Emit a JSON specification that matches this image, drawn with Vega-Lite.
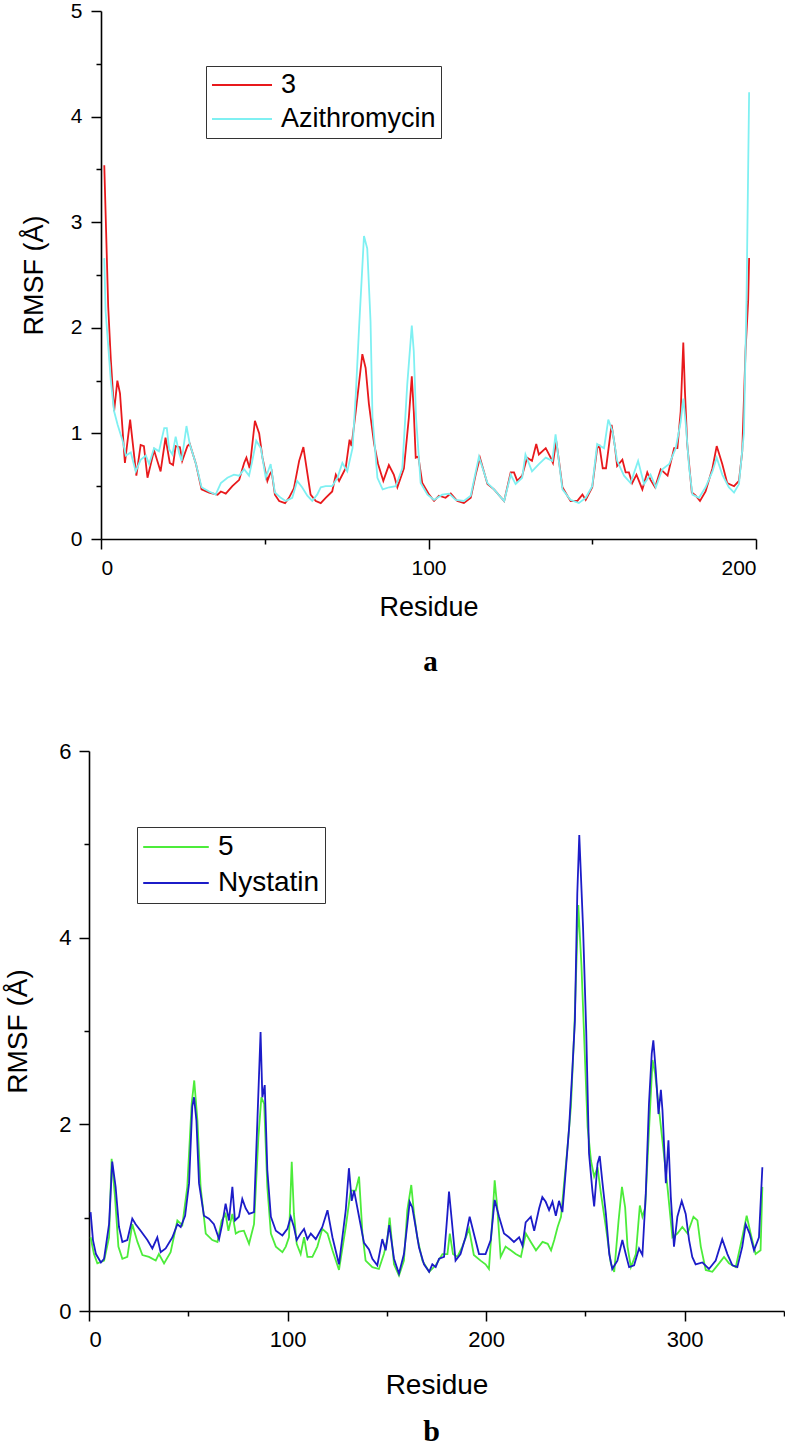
{
  "$schema": "https://vega.github.io/schema/vega-lite/v6.json",
  "background": "white",
  "padding": {"left": 4, "top": 0, "right": 0, "bottom": 0},
  "spacing": 63,
  "resolve": {"scale": {"color": "independent"}, "legend": {"color": "independent"}},
  "config": {
    "view": {"stroke": null},
    "axis": {
      "grid": false,
      "domainColor": "black",
      "domainWidth": 1.6,
      "tickColor": "black",
      "tickWidth": 1.5,
      "labelFont": "Liberation Sans",
      "labelColor": "black",
      "labelFontSize": 21,
      "titleFont": "Liberation Sans",
      "titleFontWeight": "normal",
      "titleColor": "black"
    },
    "legend": {
      "labelFont": "Liberation Sans",
      "labelColor": "black"
    }
  },
  "datasets": {
    "a": [
      {"s":"3","r":1,"v":3.54},{"s":"3","r":2.2,"v":2.2},{"s":"3","r":3,"v":1.7},{"s":"3","r":4,"v":1.21},{"s":"3","r":5,"v":1.5},{"s":"3","r":5.8,"v":1.38},{"s":"3","r":7.3,"v":0.72},{"s":"3","r":8.9,"v":1.13},{"s":"3","r":10.8,"v":0.6},{"s":"3","r":12.1,"v":0.89},{"s":"3","r":13.1,"v":0.88},{"s":"3","r":14.2,"v":0.58},{"s":"3","r":16.2,"v":0.84},{"s":"3","r":18.2,"v":0.64},{"s":"3","r":19.7,"v":0.96},{"s":"3","r":21,"v":0.72},{"s":"3","r":22,"v":0.7},{"s":"3","r":22.8,"v":0.88},{"s":"3","r":24.1,"v":0.87},{"s":"3","r":24.8,"v":0.74},{"s":"3","r":26.4,"v":0.88},{"s":"3","r":27.1,"v":0.9},{"s":"3","r":29,"v":0.71},{"s":"3","r":30.7,"v":0.47},{"s":"3","r":33,"v":0.44},{"s":"3","r":35.6,"v":0.42},{"s":"3","r":36.6,"v":0.45},{"s":"3","r":38.1,"v":0.43},{"s":"3","r":40.1,"v":0.5},{"s":"3","r":42.2,"v":0.56},{"s":"3","r":43.7,"v":0.72},{"s":"3","r":44.4,"v":0.77},{"s":"3","r":45.4,"v":0.67},{"s":"3","r":47,"v":1.12},{"s":"3","r":48.3,"v":1.0},{"s":"3","r":49.3,"v":0.77},{"s":"3","r":50.8,"v":0.55},{"s":"3","r":51.5,"v":0.61},{"s":"3","r":52.1,"v":0.64},{"s":"3","r":53.1,"v":0.42},{"s":"3","r":54.4,"v":0.36},{"s":"3","r":56.2,"v":0.34},{"s":"3","r":57.4,"v":0.39},{"s":"3","r":58.9,"v":0.48},{"s":"3","r":60.5,"v":0.74},{"s":"3","r":61.8,"v":0.87},{"s":"3","r":64,"v":0.42},{"s":"3","r":65.6,"v":0.36},{"s":"3","r":67.1,"v":0.34},{"s":"3","r":68.6,"v":0.39},{"s":"3","r":70.6,"v":0.45},{"s":"3","r":71.7,"v":0.61},{"s":"3","r":72.7,"v":0.55},{"s":"3","r":74.7,"v":0.67},{"s":"3","r":75.9,"v":0.94},{"s":"3","r":76.5,"v":0.88},{"s":"3","r":77.8,"v":1.21},{"s":"3","r":79.8,"v":1.75},{"s":"3","r":80.8,"v":1.62},{"s":"3","r":81.8,"v":1.28},{"s":"3","r":83.4,"v":0.9},{"s":"3","r":84.6,"v":0.71},{"s":"3","r":86.2,"v":0.55},{"s":"3","r":87.9,"v":0.7},{"s":"3","r":89.4,"v":0.61},{"s":"3","r":90.5,"v":0.49},{"s":"3","r":92.5,"v":0.67},{"s":"3","r":94,"v":1.15},{"s":"3","r":94.9,"v":1.54},{"s":"3","r":95.5,"v":1.21},{"s":"3","r":96.1,"v":0.77},{"s":"3","r":96.9,"v":0.78},{"s":"3","r":98.1,"v":0.53},{"s":"3","r":100.2,"v":0.42},{"s":"3","r":101.7,"v":0.36},{"s":"3","r":103.2,"v":0.41},{"s":"3","r":105.2,"v":0.39},{"s":"3","r":106.8,"v":0.43},{"s":"3","r":108.8,"v":0.36},{"s":"3","r":110.8,"v":0.34},{"s":"3","r":112.9,"v":0.39},{"s":"3","r":114.4,"v":0.61},{"s":"3","r":115.7,"v":0.77},{"s":"3","r":118,"v":0.52},{"s":"3","r":120,"v":0.47},{"s":"3","r":123.1,"v":0.36},{"s":"3","r":125.1,"v":0.63},{"s":"3","r":126.1,"v":0.63},{"s":"3","r":127.1,"v":0.55},{"s":"3","r":128.6,"v":0.6},{"s":"3","r":130.1,"v":0.77},{"s":"3","r":131.6,"v":0.74},{"s":"3","r":132.9,"v":0.9},{"s":"3","r":133.7,"v":0.8},{"s":"3","r":135.8,"v":0.86},{"s":"3","r":137.3,"v":0.77},{"s":"3","r":138,"v":0.72},{"s":"3","r":139,"v":0.93},{"s":"3","r":139.8,"v":0.75},{"s":"3","r":140.9,"v":0.49},{"s":"3","r":142.4,"v":0.41},{"s":"3","r":143.4,"v":0.36},{"s":"3","r":145.4,"v":0.36},{"s":"3","r":147,"v":0.42},{"s":"3","r":148,"v":0.37},{"s":"3","r":150,"v":0.49},{"s":"3","r":151.5,"v":0.86},{"s":"3","r":152.2,"v":0.88},{"s":"3","r":153.2,"v":0.67},{"s":"3","r":154.2,"v":0.67},{"s":"3","r":155.9,"v":1.08},{"s":"3","r":156.9,"v":0.88},{"s":"3","r":157.6,"v":0.69},{"s":"3","r":159.2,"v":0.75},{"s":"3","r":160.2,"v":0.63},{"s":"3","r":161.2,"v":0.63},{"s":"3","r":162.2,"v":0.53},{"s":"3","r":163.5,"v":0.61},{"s":"3","r":165.3,"v":0.47},{"s":"3","r":166.8,"v":0.63},{"s":"3","r":167.8,"v":0.56},{"s":"3","r":169.2,"v":0.49},{"s":"3","r":170.9,"v":0.66},{"s":"3","r":173,"v":0.6},{"s":"3","r":175,"v":0.86},{"s":"3","r":176,"v":0.86},{"s":"3","r":177,"v":1.21},{"s":"3","r":177.8,"v":1.86},{"s":"3","r":178.3,"v":1.4},{"s":"3","r":179,"v":0.9},{"s":"3","r":180.4,"v":0.44},{"s":"3","r":181.6,"v":0.41},{"s":"3","r":182.9,"v":0.36},{"s":"3","r":184.6,"v":0.45},{"s":"3","r":186.7,"v":0.67},{"s":"3","r":188,"v":0.88},{"s":"3","r":189.7,"v":0.71},{"s":"3","r":191.2,"v":0.53},{"s":"3","r":193.3,"v":0.5},{"s":"3","r":194.8,"v":0.55},{"s":"3","r":195.8,"v":0.83},{"s":"3","r":196.8,"v":1.78},{"s":"3","r":197.6,"v":2.25},{"s":"3","r":197.9,"v":2.66},
      {"s":"Azithromycin","r":1,"v":2.66},{"s":"Azithromycin","r":1.4,"v":2.16},{"s":"Azithromycin","r":3,"v":1.5},{"s":"Azithromycin","r":4,"v":1.21},{"s":"Azithromycin","r":5.1,"v":1.08},{"s":"Azithromycin","r":6.6,"v":0.93},{"s":"Azithromycin","r":7.6,"v":0.79},{"s":"Azithromycin","r":9.1,"v":0.82},{"s":"Azithromycin","r":10.6,"v":0.64},{"s":"Azithromycin","r":12.1,"v":0.75},{"s":"Azithromycin","r":13.7,"v":0.79},{"s":"Azithromycin","r":14.7,"v":0.71},{"s":"Azithromycin","r":16.2,"v":0.86},{"s":"Azithromycin","r":17.7,"v":0.83},{"s":"Azithromycin","r":19.3,"v":1.05},{"s":"Azithromycin","r":20.1,"v":1.05},{"s":"Azithromycin","r":20.8,"v":0.85},{"s":"Azithromycin","r":21.8,"v":0.8},{"s":"Azithromycin","r":22.8,"v":0.97},{"s":"Azithromycin","r":23.8,"v":0.82},{"s":"Azithromycin","r":24.6,"v":0.74},{"s":"Azithromycin","r":26.1,"v":1.07},{"s":"Azithromycin","r":27.1,"v":0.9},{"s":"Azithromycin","r":29,"v":0.71},{"s":"Azithromycin","r":30.7,"v":0.49},{"s":"Azithromycin","r":33,"v":0.45},{"s":"Azithromycin","r":35,"v":0.42},{"s":"Azithromycin","r":36.6,"v":0.53},{"s":"Azithromycin","r":38.6,"v":0.58},{"s":"Azithromycin","r":40.6,"v":0.61},{"s":"Azithromycin","r":42.2,"v":0.6},{"s":"Azithromycin","r":43.7,"v":0.66},{"s":"Azithromycin","r":45.2,"v":0.6},{"s":"Azithromycin","r":46.2,"v":0.74},{"s":"Azithromycin","r":47.4,"v":0.93},{"s":"Azithromycin","r":48.8,"v":0.86},{"s":"Azithromycin","r":50.3,"v":0.58},{"s":"Azithromycin","r":51.8,"v":0.71},{"s":"Azithromycin","r":53.1,"v":0.44},{"s":"Azithromycin","r":54.9,"v":0.39},{"s":"Azithromycin","r":56.4,"v":0.36},{"s":"Azithromycin","r":58.4,"v":0.39},{"s":"Azithromycin","r":59.9,"v":0.55},{"s":"Azithromycin","r":61.4,"v":0.49},{"s":"Azithromycin","r":63,"v":0.41},{"s":"Azithromycin","r":64.5,"v":0.36},{"s":"Azithromycin","r":66,"v":0.42},{"s":"Azithromycin","r":67.1,"v":0.49},{"s":"Azithromycin","r":68.6,"v":0.5},{"s":"Azithromycin","r":70.6,"v":0.5},{"s":"Azithromycin","r":72.2,"v":0.58},{"s":"Azithromycin","r":73.7,"v":0.72},{"s":"Azithromycin","r":75.2,"v":0.64},{"s":"Azithromycin","r":76.8,"v":0.86},{"s":"Azithromycin","r":77.8,"v":1.37},{"s":"Azithromycin","r":78.8,"v":2.0},{"s":"Azithromycin","r":80.3,"v":2.87},{"s":"Azithromycin","r":81.3,"v":2.75},{"s":"Azithromycin","r":82.3,"v":2.06},{"s":"Azithromycin","r":82.9,"v":1.15},{"s":"Azithromycin","r":84.4,"v":0.58},{"s":"Azithromycin","r":86,"v":0.47},{"s":"Azithromycin","r":88,"v":0.49},{"s":"Azithromycin","r":90,"v":0.5},{"s":"Azithromycin","r":92,"v":0.67},{"s":"Azithromycin","r":93.5,"v":1.46},{"s":"Azithromycin","r":94.9,"v":2.02},{"s":"Azithromycin","r":95.5,"v":1.78},{"s":"Azithromycin","r":96.2,"v":1.15},{"s":"Azithromycin","r":97.6,"v":0.53},{"s":"Azithromycin","r":99.7,"v":0.42},{"s":"Azithromycin","r":101.7,"v":0.37},{"s":"Azithromycin","r":104.2,"v":0.42},{"s":"Azithromycin","r":106.3,"v":0.43},{"s":"Azithromycin","r":108.3,"v":0.37},{"s":"Azithromycin","r":110.8,"v":0.36},{"s":"Azithromycin","r":112.9,"v":0.41},{"s":"Azithromycin","r":115.4,"v":0.78},{"s":"Azithromycin","r":118,"v":0.53},{"s":"Azithromycin","r":120,"v":0.47},{"s":"Azithromycin","r":123.1,"v":0.36},{"s":"Azithromycin","r":125.1,"v":0.61},{"s":"Azithromycin","r":126.6,"v":0.52},{"s":"Azithromycin","r":128.6,"v":0.58},{"s":"Azithromycin","r":129.6,"v":0.8},{"s":"Azithromycin","r":131.6,"v":0.64},{"s":"Azithromycin","r":133.7,"v":0.71},{"s":"Azithromycin","r":135.8,"v":0.77},{"s":"Azithromycin","r":137.8,"v":0.74},{"s":"Azithromycin","r":138.8,"v":0.99},{"s":"Azithromycin","r":139.8,"v":0.74},{"s":"Azithromycin","r":140.9,"v":0.47},{"s":"Azithromycin","r":143.4,"v":0.37},{"s":"Azithromycin","r":145.9,"v":0.34},{"s":"Azithromycin","r":148,"v":0.39},{"s":"Azithromycin","r":150,"v":0.5},{"s":"Azithromycin","r":151.5,"v":0.9},{"s":"Azithromycin","r":153.6,"v":0.86},{"s":"Azithromycin","r":154.9,"v":1.13},{"s":"Azithromycin","r":156.2,"v":1.02},{"s":"Azithromycin","r":157.6,"v":0.74},{"s":"Azithromycin","r":159.7,"v":0.6},{"s":"Azithromycin","r":161.7,"v":0.53},{"s":"Azithromycin","r":164,"v":0.74},{"s":"Azithromycin","r":165.8,"v":0.52},{"s":"Azithromycin","r":167.8,"v":0.61},{"s":"Azithromycin","r":169.4,"v":0.49},{"s":"Azithromycin","r":171.4,"v":0.66},{"s":"Azithromycin","r":173.5,"v":0.71},{"s":"Azithromycin","r":175.5,"v":0.86},{"s":"Azithromycin","r":177,"v":1.11},{"s":"Azithromycin","r":177.8,"v":1.33},{"s":"Azithromycin","r":178.5,"v":1.11},{"s":"Azithromycin","r":179.6,"v":0.67},{"s":"Azithromycin","r":180.6,"v":0.42},{"s":"Azithromycin","r":182.6,"v":0.39},{"s":"Azithromycin","r":184.6,"v":0.49},{"s":"Azithromycin","r":186.7,"v":0.64},{"s":"Azithromycin","r":188,"v":0.77},{"s":"Azithromycin","r":189.7,"v":0.61},{"s":"Azithromycin","r":191.7,"v":0.49},{"s":"Azithromycin","r":193.3,"v":0.44},{"s":"Azithromycin","r":194.8,"v":0.52},{"s":"Azithromycin","r":196.3,"v":1.0},{"s":"Azithromycin","r":197.1,"v":2.25},{"s":"Azithromycin","r":197.9,"v":4.23}
    ],
    "b": [
      {"s":"5","r":0.8,"v":0.79},{"s":"5","r":2.5,"v":0.61},{"s":"5","r":4.2,"v":0.51},{"s":"5","r":7.6,"v":0.54},{"s":"5","r":10.1,"v":0.79},{"s":"5","r":11.4,"v":1.63},{"s":"5","r":13.1,"v":1.22},{"s":"5","r":14.8,"v":0.69},{"s":"5","r":16.8,"v":0.56},{"s":"5","r":19.3,"v":0.58},{"s":"5","r":21.8,"v":0.93},{"s":"5","r":24.4,"v":0.74},{"s":"5","r":26.9,"v":0.6},{"s":"5","r":30.2,"v":0.58},{"s":"5","r":33.6,"v":0.54},{"s":"5","r":35.2,"v":0.61},{"s":"5","r":37.8,"v":0.51},{"s":"5","r":41.1,"v":0.63},{"s":"5","r":44.5,"v":0.97},{"s":"5","r":47,"v":0.92},{"s":"5","r":49.5,"v":1.33},{"s":"5","r":51.7,"v":2.22},{"s":"5","r":53,"v":2.47},{"s":"5","r":54.6,"v":2.04},{"s":"5","r":56.2,"v":1.33},{"s":"5","r":58.8,"v":0.83},{"s":"5","r":62.1,"v":0.76},{"s":"5","r":64.7,"v":0.74},{"s":"5","r":66.8,"v":0.97},{"s":"5","r":68.8,"v":1.04},{"s":"5","r":70.2,"v":0.86},{"s":"5","r":72.2,"v":1.04},{"s":"5","r":73.9,"v":0.83},{"s":"5","r":75.5,"v":0.85},{"s":"5","r":78,"v":0.86},{"s":"5","r":80.6,"v":0.72},{"s":"5","r":83.1,"v":0.93},{"s":"5","r":85.3,"v":1.86},{"s":"5","r":86.8,"v":2.29},{"s":"5","r":88.2,"v":2.22},{"s":"5","r":89.8,"v":1.33},{"s":"5","r":91.6,"v":0.83},{"s":"5","r":94.1,"v":0.69},{"s":"5","r":97.4,"v":0.63},{"s":"5","r":99.1,"v":0.69},{"s":"5","r":100.7,"v":0.79},{"s":"5","r":102.1,"v":1.6},{"s":"5","r":103.2,"v":1.04},{"s":"5","r":104.6,"v":0.72},{"s":"5","r":106.6,"v":0.61},{"s":"5","r":108.3,"v":0.79},{"s":"5","r":110,"v":0.58},{"s":"5","r":112.5,"v":0.58},{"s":"5","r":115,"v":0.69},{"s":"5","r":117.5,"v":0.88},{"s":"5","r":120.1,"v":0.83},{"s":"5","r":122.6,"v":0.65},{"s":"5","r":125.9,"v":0.44},{"s":"5","r":129.3,"v":0.9},{"s":"5","r":131.8,"v":1.29},{"s":"5","r":134.3,"v":1.29},{"s":"5","r":136,"v":1.44},{"s":"5","r":137.7,"v":0.83},{"s":"5","r":139.3,"v":0.54},{"s":"5","r":142.7,"v":0.47},{"s":"5","r":146,"v":0.45},{"s":"5","r":148.5,"v":0.61},{"s":"5","r":150.2,"v":0.76},{"s":"5","r":151.4,"v":1.0},{"s":"5","r":153.6,"v":0.5},{"s":"5","r":156.1,"v":0.38},{"s":"5","r":158.6,"v":0.54},{"s":"5","r":160.3,"v":1.08},{"s":"5","r":162.3,"v":1.35},{"s":"5","r":163.7,"v":1.04},{"s":"5","r":165.3,"v":0.79},{"s":"5","r":167.9,"v":0.54},{"s":"5","r":171.3,"v":0.42},{"s":"5","r":174.6,"v":0.49},{"s":"5","r":178,"v":0.61},{"s":"5","r":180.5,"v":0.61},{"s":"5","r":181.7,"v":0.83},{"s":"5","r":183.3,"v":0.61},{"s":"5","r":185.5,"v":0.58},{"s":"5","r":188,"v":0.69},{"s":"5","r":191.4,"v":0.88},{"s":"5","r":193.8,"v":0.6},{"s":"5","r":197.2,"v":0.54},{"s":"5","r":199.7,"v":0.5},{"s":"5","r":201.4,"v":0.45},{"s":"5","r":203.1,"v":0.97},{"s":"5","r":204.3,"v":1.4},{"s":"5","r":205.6,"v":1.11},{"s":"5","r":207.3,"v":0.58},{"s":"5","r":209.8,"v":0.69},{"s":"5","r":212.4,"v":0.65},{"s":"5","r":214.9,"v":0.61},{"s":"5","r":217.5,"v":0.58},{"s":"5","r":220,"v":0.83},{"s":"5","r":222.5,"v":0.74},{"s":"5","r":225.1,"v":0.65},{"s":"5","r":228.4,"v":0.74},{"s":"5","r":231,"v":0.72},{"s":"5","r":232.7,"v":0.65},{"s":"5","r":234.3,"v":0.76},{"s":"5","r":236,"v":0.9},{"s":"5","r":237.7,"v":1.01},{"s":"5","r":239.4,"v":1.4},{"s":"5","r":241,"v":1.76},{"s":"5","r":242.7,"v":2.19},{"s":"5","r":244.4,"v":3.01},{"s":"5","r":246.4,"v":4.35},{"s":"5","r":248,"v":3.7},{"s":"5","r":249.6,"v":2.8},{"s":"5","r":251.1,"v":1.97},{"s":"5","r":252.8,"v":1.61},{"s":"5","r":254.4,"v":1.44},{"s":"5","r":256.1,"v":1.54},{"s":"5","r":257.8,"v":1.26},{"s":"5","r":260.3,"v":0.9},{"s":"5","r":262.8,"v":0.51},{"s":"5","r":264.5,"v":0.42},{"s":"5","r":266.7,"v":0.97},{"s":"5","r":268.4,"v":1.33},{"s":"5","r":270,"v":1.11},{"s":"5","r":271.2,"v":0.69},{"s":"5","r":272.9,"v":0.47},{"s":"5","r":275.4,"v":0.61},{"s":"5","r":277.4,"v":1.13},{"s":"5","r":278.7,"v":1.01},{"s":"5","r":280.1,"v":1.11},{"s":"5","r":282,"v":1.93},{"s":"5","r":283.8,"v":2.69},{"s":"5","r":285.1,"v":2.54},{"s":"5","r":287.1,"v":2.15},{"s":"5","r":289.1,"v":1.76},{"s":"5","r":291.3,"v":1.33},{"s":"5","r":293.8,"v":0.79},{"s":"5","r":296.3,"v":0.83},{"s":"5","r":298.8,"v":0.9},{"s":"5","r":301.4,"v":0.83},{"s":"5","r":304.4,"v":1.01},{"s":"5","r":306.4,"v":0.97},{"s":"5","r":308.1,"v":0.69},{"s":"5","r":310.6,"v":0.44},{"s":"5","r":313.9,"v":0.42},{"s":"5","r":317.3,"v":0.51},{"s":"5","r":319.8,"v":0.58},{"s":"5","r":322.3,"v":0.51},{"s":"5","r":325.7,"v":0.47},{"s":"5","r":329,"v":0.79},{"s":"5","r":331.2,"v":1.02},{"s":"5","r":333.2,"v":0.83},{"s":"5","r":335.7,"v":0.61},{"s":"5","r":338.2,"v":0.65},{"s":"5","r":339.1,"v":1.33},
      {"s":"Nystatin","r":0.8,"v":1.06},{"s":"Nystatin","r":2,"v":0.76},{"s":"Nystatin","r":3.5,"v":0.61},{"s":"Nystatin","r":6,"v":0.52},{"s":"Nystatin","r":7.6,"v":0.56},{"s":"Nystatin","r":10.1,"v":0.93},{"s":"Nystatin","r":11.7,"v":1.6},{"s":"Nystatin","r":13.4,"v":1.33},{"s":"Nystatin","r":15.1,"v":0.9},{"s":"Nystatin","r":16.8,"v":0.74},{"s":"Nystatin","r":19.3,"v":0.76},{"s":"Nystatin","r":21.8,"v":0.99},{"s":"Nystatin","r":23.5,"v":0.93},{"s":"Nystatin","r":26,"v":0.86},{"s":"Nystatin","r":29.4,"v":0.76},{"s":"Nystatin","r":31.9,"v":0.67},{"s":"Nystatin","r":34.4,"v":0.79},{"s":"Nystatin","r":36.1,"v":0.63},{"s":"Nystatin","r":38.6,"v":0.67},{"s":"Nystatin","r":42,"v":0.79},{"s":"Nystatin","r":44.5,"v":0.93},{"s":"Nystatin","r":46.2,"v":0.9},{"s":"Nystatin","r":48.4,"v":1.02},{"s":"Nystatin","r":50.4,"v":1.37},{"s":"Nystatin","r":52,"v":2.19},{"s":"Nystatin","r":52.9,"v":2.29},{"s":"Nystatin","r":54.1,"v":2.04},{"s":"Nystatin","r":55.4,"v":1.37},{"s":"Nystatin","r":57.9,"v":1.02},{"s":"Nystatin","r":60.4,"v":0.99},{"s":"Nystatin","r":62.9,"v":0.93},{"s":"Nystatin","r":65.5,"v":0.77},{"s":"Nystatin","r":67.1,"v":0.93},{"s":"Nystatin","r":68.8,"v":1.15},{"s":"Nystatin","r":70.5,"v":0.97},{"s":"Nystatin","r":72.2,"v":1.33},{"s":"Nystatin","r":73.5,"v":0.97},{"s":"Nystatin","r":75.5,"v":1.01},{"s":"Nystatin","r":77.2,"v":1.2},{"s":"Nystatin","r":78.9,"v":1.1},{"s":"Nystatin","r":80.6,"v":1.04},{"s":"Nystatin","r":83.1,"v":1.06},{"s":"Nystatin","r":84.8,"v":2.04},{"s":"Nystatin","r":86.4,"v":2.99},{"s":"Nystatin","r":87.3,"v":2.29},{"s":"Nystatin","r":88.5,"v":2.42},{"s":"Nystatin","r":89.8,"v":1.51},{"s":"Nystatin","r":91.6,"v":1.01},{"s":"Nystatin","r":94.1,"v":0.86},{"s":"Nystatin","r":97.4,"v":0.81},{"s":"Nystatin","r":99.9,"v":0.88},{"s":"Nystatin","r":101.6,"v":1.01},{"s":"Nystatin","r":103.2,"v":0.9},{"s":"Nystatin","r":104.6,"v":0.76},{"s":"Nystatin","r":106.6,"v":0.83},{"s":"Nystatin","r":108.3,"v":0.88},{"s":"Nystatin","r":110,"v":0.77},{"s":"Nystatin","r":111.7,"v":0.83},{"s":"Nystatin","r":114.2,"v":0.77},{"s":"Nystatin","r":117.5,"v":0.9},{"s":"Nystatin","r":120.1,"v":1.08},{"s":"Nystatin","r":122.6,"v":0.79},{"s":"Nystatin","r":125.9,"v":0.5},{"s":"Nystatin","r":129.3,"v":1.08},{"s":"Nystatin","r":130.9,"v":1.53},{"s":"Nystatin","r":132.3,"v":1.18},{"s":"Nystatin","r":133.5,"v":1.29},{"s":"Nystatin","r":136,"v":1.01},{"s":"Nystatin","r":138.5,"v":0.73},{"s":"Nystatin","r":141,"v":0.66},{"s":"Nystatin","r":142.7,"v":0.56},{"s":"Nystatin","r":145.2,"v":0.49},{"s":"Nystatin","r":147.7,"v":0.77},{"s":"Nystatin","r":149.4,"v":0.65},{"s":"Nystatin","r":151.2,"v":0.92},{"s":"Nystatin","r":153.6,"v":0.56},{"s":"Nystatin","r":156.1,"v":0.4},{"s":"Nystatin","r":158.6,"v":0.61},{"s":"Nystatin","r":160.3,"v":0.93},{"s":"Nystatin","r":161.5,"v":1.17},{"s":"Nystatin","r":162.8,"v":1.11},{"s":"Nystatin","r":164.5,"v":0.9},{"s":"Nystatin","r":166.2,"v":0.68},{"s":"Nystatin","r":168.7,"v":0.5},{"s":"Nystatin","r":171.3,"v":0.42},{"s":"Nystatin","r":172.9,"v":0.5},{"s":"Nystatin","r":174.6,"v":0.47},{"s":"Nystatin","r":176.3,"v":0.56},{"s":"Nystatin","r":178.8,"v":0.58},{"s":"Nystatin","r":180.5,"v":1.04},{"s":"Nystatin","r":181.3,"v":1.28},{"s":"Nystatin","r":182.7,"v":0.97},{"s":"Nystatin","r":184.6,"v":0.54},{"s":"Nystatin","r":187.1,"v":0.61},{"s":"Nystatin","r":189.6,"v":0.79},{"s":"Nystatin","r":191.7,"v":1.01},{"s":"Nystatin","r":193.8,"v":0.83},{"s":"Nystatin","r":196.4,"v":0.61},{"s":"Nystatin","r":199.7,"v":0.61},{"s":"Nystatin","r":202.3,"v":0.76},{"s":"Nystatin","r":204.3,"v":1.19},{"s":"Nystatin","r":206.5,"v":1.01},{"s":"Nystatin","r":209,"v":0.83},{"s":"Nystatin","r":211.5,"v":0.79},{"s":"Nystatin","r":214,"v":0.74},{"s":"Nystatin","r":216.6,"v":0.79},{"s":"Nystatin","r":218.3,"v":0.7},{"s":"Nystatin","r":219.9,"v":0.95},{"s":"Nystatin","r":222.5,"v":1.01},{"s":"Nystatin","r":224.2,"v":0.86},{"s":"Nystatin","r":226.7,"v":1.1},{"s":"Nystatin","r":228.3,"v":1.22},{"s":"Nystatin","r":230,"v":1.17},{"s":"Nystatin","r":231.7,"v":1.08},{"s":"Nystatin","r":233.4,"v":1.17},{"s":"Nystatin","r":235.1,"v":1.02},{"s":"Nystatin","r":236.7,"v":1.18},{"s":"Nystatin","r":238.4,"v":1.06},{"s":"Nystatin","r":240.1,"v":1.51},{"s":"Nystatin","r":241.8,"v":1.97},{"s":"Nystatin","r":243.4,"v":2.58},{"s":"Nystatin","r":244.7,"v":3.11},{"s":"Nystatin","r":245.9,"v":4.47},{"s":"Nystatin","r":246.9,"v":5.1},{"s":"Nystatin","r":248.8,"v":4.11},{"s":"Nystatin","r":250.4,"v":3.0},{"s":"Nystatin","r":251.8,"v":1.69},{"s":"Nystatin","r":253.5,"v":1.29},{"s":"Nystatin","r":254.4,"v":1.12},{"s":"Nystatin","r":256.1,"v":1.58},{"s":"Nystatin","r":257.2,"v":1.66},{"s":"Nystatin","r":258.6,"v":1.37},{"s":"Nystatin","r":260.3,"v":1.04},{"s":"Nystatin","r":262,"v":0.61},{"s":"Nystatin","r":263.5,"v":0.45},{"s":"Nystatin","r":266.1,"v":0.54},{"s":"Nystatin","r":268.6,"v":0.76},{"s":"Nystatin","r":270.3,"v":0.61},{"s":"Nystatin","r":272,"v":0.47},{"s":"Nystatin","r":274.5,"v":0.49},{"s":"Nystatin","r":277,"v":0.67},{"s":"Nystatin","r":278.7,"v":0.6},{"s":"Nystatin","r":280.4,"v":1.26},{"s":"Nystatin","r":282,"v":2.22},{"s":"Nystatin","r":283.4,"v":2.76},{"s":"Nystatin","r":284.2,"v":2.9},{"s":"Nystatin","r":285.4,"v":2.58},{"s":"Nystatin","r":286.8,"v":2.11},{"s":"Nystatin","r":288,"v":2.37},{"s":"Nystatin","r":288.8,"v":2.15},{"s":"Nystatin","r":290.5,"v":1.37},{"s":"Nystatin","r":291.8,"v":1.83},{"s":"Nystatin","r":293,"v":1.22},{"s":"Nystatin","r":294.6,"v":0.69},{"s":"Nystatin","r":296.3,"v":1.01},{"s":"Nystatin","r":298.5,"v":1.18},{"s":"Nystatin","r":300.5,"v":1.04},{"s":"Nystatin","r":302.2,"v":0.76},{"s":"Nystatin","r":303.8,"v":0.58},{"s":"Nystatin","r":305.5,"v":0.5},{"s":"Nystatin","r":308.9,"v":0.52},{"s":"Nystatin","r":312.2,"v":0.45},{"s":"Nystatin","r":315.6,"v":0.54},{"s":"Nystatin","r":318.9,"v":0.77},{"s":"Nystatin","r":321.5,"v":0.61},{"s":"Nystatin","r":324,"v":0.49},{"s":"Nystatin","r":326.5,"v":0.47},{"s":"Nystatin","r":329,"v":0.69},{"s":"Nystatin","r":330.7,"v":0.93},{"s":"Nystatin","r":332.7,"v":0.83},{"s":"Nystatin","r":334.9,"v":0.65},{"s":"Nystatin","r":337.4,"v":0.79},{"s":"Nystatin","r":339.1,"v":1.54}
    ]
  },
  "vconcat": [
    {
      "width": 667,
      "height": 528,
      "data": {"name": "a"},
      "title": {"text": "a", "orient": "bottom", "anchor": "middle", "dx": 8, "font": "Liberation Serif", "fontWeight": "bold", "fontSize": 29, "color": "black", "offset": 28},
      "mark": {"type": "line", "strokeWidth": 1.8},
      "encoding": {
        "x": {"field": "r", "type": "quantitative", "scale": {"domain": [0, 200], "nice": false, "range": [12, 667]},
          "axis": {"title": "Residue", "titleFontSize": 27, "values": [0, 50, 100, 150, 200], "format": "d",
            "labelExpr": "datum.value % 100 === 0 ? datum.label : ''",
            "tickSize": {"condition": {"test": "datum.value % 100 === 0", "value": 10}, "value": 5},
            "labelPadding": 8, "titlePadding": 16}},
        "y": {"field": "v", "type": "quantitative", "scale": {"domain": [0, 5], "nice": false},
          "axis": {"title": "RMSF (Å)", "titleFontSize": 27, "offset": -12, "values": [0, 0.5, 1, 1.5, 2, 2.5, 3, 3.5, 4, 4.5, 5], "format": ".0f",
            "labelExpr": "datum.value % 1 === 0 ? datum.label : ''",
            "tickSize": {"condition": {"test": "datum.value % 1 === 0", "value": 10}, "value": 5},
            "labelPadding": 9, "titleX": -53}},
        "color": {"field": "s", "type": "nominal",
          "scale": {"domain": ["3", "Azithromycin"], "range": ["#e8191c", "#7ff0f2"]},
          "legend": {"orient": "none", "legendX": 117, "legendY": 55, "title": null, "symbolType": "stroke", "symbolSize": 3600, "symbolStrokeWidth": 2, "labelFontSize": 27, "clipHeight": 28, "strokeColor": "#333333", "fillColor": "white", "padding": 5, "rowPadding": 6, "labelOffset": 8}}
      }
    },
    {
      "width": 695,
      "height": 560,
      "data": {"name": "b"},
      "title": {"text": "b", "orient": "bottom", "anchor": "middle", "dx": -5, "font": "Liberation Serif", "fontWeight": "bold", "fontSize": 30, "color": "black", "offset": 18},
      "mark": {"type": "line", "strokeWidth": 1.8},
      "encoding": {
        "x": {"field": "r", "type": "quantitative", "scale": {"domain": [0, 350], "nice": false},
          "axis": {"title": "Residue", "titleFontSize": 28, "labelFontSize": 22, "values": [0, 50, 100, 150, 200, 250, 300, 350], "format": "d",
            "labelExpr": "datum.value % 100 === 0 ? datum.label : ''",
            "tickSize": {"condition": {"test": "datum.value % 100 === 0", "value": 10}, "value": 5},
            "labelPadding": 8, "titlePadding": 21}},
        "y": {"field": "v", "type": "quantitative", "scale": {"domain": [0, 6], "nice": false},
          "axis": {"title": "RMSF (Å)", "titleFontSize": 28, "labelFontSize": 22, "values": [0, 1, 2, 3, 4, 5, 6], "format": "d",
            "labelExpr": "datum.value % 2 === 0 ? datum.label : ''",
            "tickSize": {"condition": {"test": "datum.value % 2 === 0", "value": 10}, "value": 5},
            "labelPadding": 8, "titleX": -57}},
        "color": {"field": "s", "type": "nominal",
          "scale": {"domain": ["5", "Nystatin"], "range": ["#4cec3a", "#1c1cc8"]},
          "legend": {"orient": "none", "legendX": 48, "legendY": 76, "title": null, "symbolType": "stroke", "symbolSize": 4300, "symbolStrokeWidth": 2, "labelFontSize": 28, "clipHeight": 30, "strokeColor": "#333333", "fillColor": "white", "padding": 5, "rowPadding": 6, "labelOffset": 8}}
      }
    }
  ]
}
